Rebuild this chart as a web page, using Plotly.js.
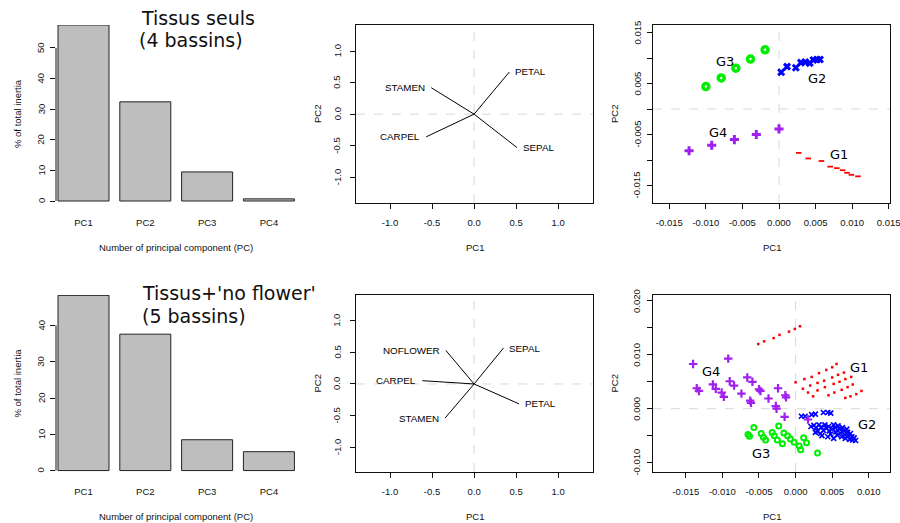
<!DOCTYPE html>
<html>
<head>
<meta charset="utf-8">
<script src="https://cdn.plot.ly/plotly-3.0.1.min.js"></script>
<style>html,body{margin:0;padding:0;background:#fff;}#chart{width:900px;height:523px;}</style>
</head>
<body>
<div id="chart"></div>
<script>
// ---------- data ----------
const barCats = ['PC1', 'PC2', 'PC3', 'PC4'];
const inertiaTissus = [57.5, 32.4, 9.5, 0.7];
const inertiaNoFlower = [48.3, 37.6, 8.5, 5.2];

const varsTissus = ['PETAL', 'STAMEN', 'CARPEL', 'SEPAL'];
const loadPC1Tissus = [0.42, -0.51, -0.57, 0.51];
const loadPC2Tissus = [0.67, 0.42, -0.36, -0.53];

const varsNoFlower = ['NOFLOWER', 'SEPAL', 'CARPEL', 'STAMEN', 'PETAL'];
const loadPC1NoFlower = [-0.337, 0.35, -0.615, -0.345, 0.536];
const loadPC2NoFlower = [0.533, 0.57, 0.052, -0.54, -0.316];

// top scatter (4 bassins)
const g1TopX = [0.0027, 0.0040, 0.0058, 0.0070, 0.0079, 0.0087, 0.0093, 0.0099, 0.0108];
const g1TopY = [-0.0086, -0.0097, -0.0102, -0.0113, -0.0116, -0.0120, -0.0125, -0.0129, -0.0132];
const g2TopX = [0.0003, 0.0011, 0.0023, 0.0030, 0.0036, 0.0042, 0.0047, 0.0052, 0.0056];
const g2TopY = [0.0072, 0.0083, 0.0081, 0.0091, 0.0092, 0.0090, 0.0096, 0.0097, 0.0097];
const g3TopX = [-0.0100, -0.0079, -0.0059, -0.0039, -0.0019];
const g3TopY = [0.0044, 0.0061, 0.0080, 0.0098, 0.0116];
const g4TopX = [-0.0123, -0.0092, -0.0061, -0.0031, 0.0000];
const g4TopY = [-0.0082, -0.0071, -0.0060, -0.0050, -0.0039];

// bottom scatter (5 bassins)
const g1BotX = [-0.0051, -0.0043, -0.0030, -0.0022, -0.0009, -0.0001, 0.0006,
  0.0000, 0.0012, 0.0022, 0.0032, 0.0042, 0.0050, 0.0056,
  0.0010, 0.0020, 0.0030, 0.0039, 0.0050, 0.0058, 0.0066,
  0.0017, 0.0030, 0.0040, 0.0052, 0.0060, 0.0068, 0.0076,
  0.0024, 0.0045, 0.0053, 0.0063, 0.0071, 0.0078,
  0.0068, 0.0075, 0.0083, 0.0090];
const g1BotY = [0.0120, 0.0125, 0.0131, 0.0137, 0.0143, 0.0148, 0.0153,
  0.0049, 0.0055, 0.0059, 0.0066, 0.0072, 0.0077, 0.0083,
  0.0037, 0.0043, 0.0048, 0.0052, 0.0058, 0.0063, 0.0067,
  0.0030, 0.0034, 0.0040, 0.0046, 0.0050, 0.0055, 0.0059,
  0.0023, 0.0025, 0.0030, 0.0035, 0.0040, 0.0045,
  0.0020, 0.0023, 0.0027, 0.0033];
const g2BotX = [0.0008, 0.0013, 0.0022, 0.0027, 0.0038, 0.0044, 0.0048,
  0.0021, 0.0025, 0.0028, 0.0032, 0.0035, 0.0030, 0.0034, 0.0038, 0.0040, 0.0042,
  0.0045, 0.0046, 0.0048, 0.0050, 0.0052, 0.0054, 0.0055, 0.0057, 0.0058, 0.0060,
  0.0061, 0.0063, 0.0064, 0.0066, 0.0067, 0.0068, 0.0070, 0.0071, 0.0072, 0.0074,
  0.0075, 0.0077, 0.0078, 0.0080, 0.0082, 0.0036, 0.0027, 0.0044, 0.0052];
const g2BotY = [-0.0014, -0.0014, -0.0011, -0.0010, -0.0007, -0.0007, -0.0008,
  -0.0033, -0.0031, -0.0035, -0.0030, -0.0034, -0.0042, -0.0046, -0.0040, -0.0030, -0.0036,
  -0.0033, -0.0041, -0.0047, -0.0038, -0.0030, -0.0035, -0.0043, -0.0049, -0.0032, -0.0038,
  -0.0045, -0.0052, -0.0035, -0.0041, -0.0048, -0.0055, -0.0038, -0.0044, -0.0050, -0.0057,
  -0.0046, -0.0052, -0.0058, -0.0054, -0.0059, -0.0050, -0.0044, -0.0052, -0.0055];
const g3BotX = [-0.0057, -0.0065, -0.0063, -0.0047, -0.0044, -0.0041, -0.0032, -0.0029, -0.0025, -0.0018,
  -0.0023, -0.0016, -0.0011, -0.0007, -0.0002, 0.0005, 0.0007, 0.0011, 0.0015, 0.0030];
const g3BotY = [-0.0035, -0.0048, -0.0051, -0.0046, -0.0053, -0.0058, -0.0044, -0.0050, -0.0058, -0.0065,
  -0.0032, -0.0045, -0.0050, -0.0056, -0.0062, -0.0069, -0.0076, -0.0054, -0.0063, -0.0082];
const g4BotX = [-0.0140, -0.0092, -0.0135, -0.0132, -0.0113, -0.0109, -0.0101, -0.0098, -0.0090, -0.0084,
  -0.0074, -0.0062, -0.0061, -0.0066, -0.0059, -0.0050, -0.0048, -0.0037, -0.0027, -0.0026,
  -0.0024, -0.0014, -0.0013, -0.0015, 0.0017];
const g4BotY = [0.0083, 0.0093, 0.0038, 0.0033, 0.0045, 0.0037, 0.0030, 0.0022, 0.0051, 0.0043,
  0.0028, 0.0015, 0.0011, 0.0058, 0.0050, 0.0036, 0.0033, 0.0019, 0.0005, 0.0000,
  0.0038, 0.0025, 0.0021, -0.0015, -0.0020];

const groupNames = ['G1', 'G2', 'G3', 'G4'];
const groupLabTopX = [0.0082, 0.0052, -0.0074, -0.0083];
const groupLabTopY = [-0.0090, 0.0059, 0.0094, -0.0047];
const groupLabBotX = [0.0086, 0.0097, -0.0047, -0.0116];
const groupLabBotY = [0.0077, -0.0029, -0.0083, 0.0069];

const titleTop = ['Tissus seuls', '(4 bassins)'];
const titleBot = ["Tissus+'no flower'", '(5 bassins)'];
const barXTitle = 'Number of principal component (PC)';
const barYTitle = '% of total inertia';

// tick labels
const barTopTicks = [0, 10, 20, 30, 40, 50];
const barBotTicks = [0, 10, 20, 30, 40];
const loadTicks = [-1, -0.5, 0, 0.5, 1];
const loadText = ['-1.0', '-0.5', '0.0', '0.5', '1.0'];
const scTopXv = [-0.015, -0.010, -0.005, 0, 0.005, 0.010, 0.015];
const scTopXt = ['-0.015', '-0.010', '-0.005', '0.000', '0.005', '0.010', '0.015'];
const scTopYv = [-0.015, -0.010, -0.005, 0, 0.005, 0.010, 0.015];
const scTopYt = ['-0.015', '', '-0.005', '', '0.005', '', '0.015'];
const scBotXv = [-0.015, -0.010, -0.005, 0, 0.005, 0.010];
const scBotXt = ['-0.015', '-0.010', '-0.005', '0.000', '0.005', '0.010'];
const scBotYv = [-0.010, -0.005, 0, 0.005, 0.010, 0.015, 0.020];
const scBotYt = ['-0.010', '', '0.000', '', '0.010', '', '0.020'];

// ---------- helpers ----------
const W = 900, H = 523;
const fx = p => p / W;
const fy = p => 1 - p / H;
const SANS = 'Liberation Sans, Arial, sans-serif';
const DEJA = 'DejaVu Sans, sans-serif';
const TICKF = {family: SANS, size: 9.5, color: '#111'};
const RED = '#FF0000', BLUE = '#0000FF', GREEN = '#00EE00', PURPLE = '#A020F0';

const cols = [[56, 295], [356, 593], [653, 890]];
const rows = [[25, 203], [295, 472]];
const dom = (c, r) => ({x: [fx(cols[c][0]), fx(cols[c][1])], y: [fy(rows[r][1]), fy(rows[r][0])]});

function boxAxis(domain, range, tickvals, ticktext, isY, anchor) {
  return {
    domain: domain, range: range, anchor: anchor,
    showline: true, mirror: true, linecolor: '#111', linewidth: 1,
    ticks: 'outside', ticklen: 5, tickwidth: 1, tickcolor: '#111',
    tickvals: tickvals, ticktext: ticktext, tickfont: TICKF,
    showticklabels: !isY, tickangle: 0, ticklabelstandoff: 6, ticklabeloverflow: 'allow',
    showgrid: false, zeroline: false, fixedrange: true
  };
}

function arrowsTrace(px, py, xa, ya) {
  const xs = [], ys = [];
  for (let i = 0; i < px.length; i++) { xs.push(0, px[i], null); ys.push(0, py[i], null); }
  return {type: 'scatter', mode: 'lines', x: xs, y: ys, xaxis: xa, yaxis: ya,
    line: {color: '#000', width: 1}, hoverinfo: 'skip'};
}

function varLabels(names, px, py, xa, ya) {
  return names.map((n, i) => ({
    text: n, x: px[i], y: py[i], xref: xa, yref: ya, showarrow: false,
    xanchor: px[i] >= 0 ? 'left' : 'right', yanchor: 'middle',
    xshift: px[i] >= 0 ? 4 : -4,
    font: {family: SANS, size: 9.8, color: '#000'}
  }));
}

function groupLabels(lx, ly, xa, ya) {
  return groupNames.map((n, i) => ({
    text: n, x: lx[i], y: ly[i], xref: xa, yref: ya, showarrow: false,
    xanchor: 'center', yanchor: 'middle',
    font: {family: DEJA, size: 13, color: '#000'}
  }));
}

// rotated y tick labels, R style (parallel to the axis)
function yTickLabels(vals, texts, k, shift) {
  const out = [];
  vals.forEach((v, i) => {
    const t = texts ? texts[i] : String(v);
    if (t === '') return;
    out.push({text: t, x: 0, y: v, xref: 'x' + k + ' domain', yref: 'y' + k, xshift: shift,
      xanchor: 'center', yanchor: 'middle', textangle: -90, showarrow: false, font: TICKF});
  });
  return out;
}

function pts(x, y, xa, ya, symbol, color, size, lw) {
  return {type: 'scatter', mode: 'markers', x: x, y: y, xaxis: xa, yaxis: ya, hoverinfo: 'skip',
    marker: {symbol: symbol, color: color, size: size, line: {color: color, width: lw}}};
}

// ---------- traces ----------
const data = [
  {type: 'bar', x: barCats, y: inertiaTissus, xaxis: 'x', yaxis: 'y',
    marker: {color: '#BEBEBE', line: {color: '#222', width: 1}}, hoverinfo: 'skip'},
  arrowsTrace(loadPC1Tissus, loadPC2Tissus, 'x2', 'y2'),
  pts(g1TopX, g1TopY, 'x3', 'y3', 'line-ew-open', RED, 4, 1.8),
  pts(g2TopX, g2TopY, 'x3', 'y3', 'x-thin-open', BLUE, 6, 3),
  pts(g3TopX, g3TopY, 'x3', 'y3', 'circle-open', GREEN, 6, 3.5),
  pts(g4TopX, g4TopY, 'x3', 'y3', 'cross-thin-open', PURPLE, 6.5, 3),
  {type: 'bar', x: barCats, y: inertiaNoFlower, xaxis: 'x4', yaxis: 'y4',
    marker: {color: '#BEBEBE', line: {color: '#222', width: 1}}, hoverinfo: 'skip'},
  arrowsTrace(loadPC1NoFlower, loadPC2NoFlower, 'x5', 'y5'),
  pts(g1BotX, g1BotY, 'x6', 'y6', 'square', RED, 2.5, 0),
  pts(g2BotX, g2BotY, 'x6', 'y6', 'x-thin-open', BLUE, 5, 1.7),
  pts(g3BotX, g3BotY, 'x6', 'y6', 'circle-open', GREEN, 5, 2),
  pts(g4BotX, g4BotY, 'x6', 'y6', 'cross-thin-open', PURPLE, 6, 2.2)
];

// ---------- axes ----------
const barX = (c, r, anchor) => ({
  domain: dom(c, r).x, range: [-0.445, 3.422], anchor: anchor, type: 'category',
  showline: false, ticks: '', tickfont: TICKF, ticklabelstandoff: 12,
  showgrid: false, zeroline: false, fixedrange: true
});
const barY = (c, r, range, anchor, tv) => ({
  domain: dom(c, r).y, range: range, anchor: anchor,
  showline: false, ticks: 'outside', ticklen: 5, tickcolor: '#111', tickvals: tv,
  showticklabels: false, showgrid: false, zeroline: false, fixedrange: true
});

const layout = {
  width: W, height: H, margin: {l: 0, r: 0, t: 0, b: 0},
  paper_bgcolor: '#fff', plot_bgcolor: 'rgba(0,0,0,0)', showlegend: false, bargap: 0.175,
  xaxis: barX(0, 0, 'y'), yaxis: barY(0, 0, [-0.65, 57.5], 'x', barTopTicks),
  xaxis2: boxAxis(dom(1, 0).x, [-1.405, 1.415], loadTicks, loadText, false, 'y2'),
  yaxis2: boxAxis(dom(1, 0).y, [-1.41, 1.415], loadTicks, loadText, true, 'x2'),
  xaxis3: boxAxis(dom(2, 0).x, [-0.01723, 0.01518], scTopXv, scTopXt, false, 'y3'),
  yaxis3: boxAxis(dom(2, 0).y, [-0.01843, 0.01647], scTopYv, scTopYt, true, 'x3'),
  xaxis4: barX(0, 1, 'y4'), yaxis4: barY(0, 1, [-0.4, 48.4], 'x4', barBotTicks),
  xaxis5: boxAxis(dom(1, 1).x, [-1.405, 1.415], loadTicks, loadText, false, 'y5'),
  yaxis5: boxAxis(dom(1, 1).y, [-1.395, 1.41], loadTicks, loadText, true, 'x5'),
  xaxis6: boxAxis(dom(2, 1).x, [-0.01948, 0.01290], scBotXv, scBotXt, false, 'y6'),
  yaxis6: boxAxis(dom(2, 1).y, [-0.01174, 0.0211], scBotYv, scBotYt, true, 'x6'),
  shapes: [],
  annotations: []
};

// R-style y axis lines for the barplots (only across the labelled ticks)
layout.shapes.push({type: 'line', xref: 'x domain', yref: 'y', x0: 0, x1: 0, y0: 0, y1: 50, line: {color: '#111', width: 1}});
layout.shapes.push({type: 'line', xref: 'x4 domain', yref: 'y4', x0: 0, x1: 0, y0: 0, y1: 40, line: {color: '#111', width: 1}});

// dashed zero lines
['2', '3', '5', '6'].forEach(k => {
  const dash = {color: '#D8D8D8', width: 1, dash: 'dash'};
  layout.shapes.push({type: 'line', xref: 'x' + k, yref: 'y' + k + ' domain', x0: 0, x1: 0, y0: 0, y1: 1, line: dash, layer: 'below'});
  layout.shapes.push({type: 'line', xref: 'x' + k + ' domain', yref: 'y' + k, x0: 0, x1: 1, y0: 0, y1: 0, line: dash, layer: 'below'});
});

const A = layout.annotations;
// y tick labels
yTickLabels(barTopTicks, null, '', -15).forEach(a => A.push(a));
yTickLabels(barBotTicks, null, '4', -15).forEach(a => A.push(a));
yTickLabels(loadTicks, loadText, '2', -19).forEach(a => A.push(a));
yTickLabels(loadTicks, loadText, '5', -19).forEach(a => A.push(a));
yTickLabels(scTopYv, scTopYt, '3', -16).forEach(a => A.push(a));
yTickLabels(scBotYv, scBotYt, '6', -16).forEach(a => A.push(a));

// titles
const titleFont = {family: DEJA, size: 19, color: '#111'};
A.push({text: titleTop[0], x: fx(139), y: fy(17.5), xref: 'paper', yref: 'paper', xanchor: 'left', yanchor: 'middle', showarrow: false, font: titleFont});
A.push({text: titleTop[1], x: fx(137), y: fy(40), xref: 'paper', yref: 'paper', xanchor: 'left', yanchor: 'middle', showarrow: false, font: titleFont});
A.push({text: titleBot[0], x: fx(140), y: fy(293), xref: 'paper', yref: 'paper', xanchor: 'left', yanchor: 'middle', showarrow: false, font: titleFont});
A.push({text: titleBot[1], x: fx(140), y: fy(316), xref: 'paper', yref: 'paper', xanchor: 'left', yanchor: 'middle', showarrow: false, font: titleFont});

// axis titles
const labFont = {family: SANS, size: 9.5, color: '#111'};
const xTitles = [barXTitle, 'PC1', 'PC1'];
const yTitles = [barYTitle, 'PC2', 'PC2'];
[0, 1].forEach(r => {
  [0, 1, 2].forEach(c => {
    const cx = c === 0 ? 176 : (cols[c][0] + cols[c][1]) / 2;
    A.push({text: xTitles[c], x: fx(cx), y: fy(rows[r][1] + 44), xref: 'paper', yref: 'paper',
      xanchor: 'center', yanchor: 'middle', showarrow: false, font: labFont});
    A.push({text: yTitles[c], x: fx(cols[c][0] - 39), y: fy((rows[r][0] + rows[r][1]) / 2), xref: 'paper', yref: 'paper',
      xanchor: 'center', yanchor: 'middle', textangle: -90, showarrow: false, font: labFont});
  });
});

varLabels(varsTissus, loadPC1Tissus, loadPC2Tissus, 'x2', 'y2').forEach(a => A.push(a));
varLabels(varsNoFlower, loadPC1NoFlower, loadPC2NoFlower, 'x5', 'y5').forEach(a => A.push(a));
groupLabels(groupLabTopX, groupLabTopY, 'x3', 'y3').forEach(a => A.push(a));
groupLabels(groupLabBotX, groupLabBotY, 'x6', 'y6').forEach(a => A.push(a));

Plotly.newPlot('chart', data, layout, {staticPlot: true, displayModeBar: false});
</script>
</body>
</html>
